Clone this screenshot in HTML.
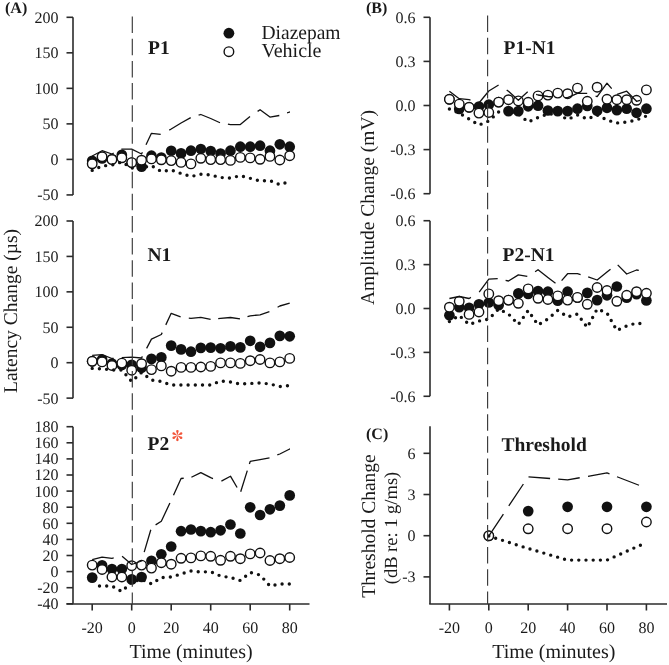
<!DOCTYPE html><html><head><meta charset="utf-8"><style>html,body{margin:0;padding:0;background:#fff;}svg{display:block;text-rendering:geometricPrecision;filter:blur(0.3px);}</style></head><body>
<svg width="669" height="665" viewBox="0 0 669 665" font-family='"Liberation Serif", serif' fill="#1a1a1a">
<line x1="73" y1="17.30000000000001" x2="73" y2="194.925" stroke="#2b2b2b" stroke-width="1.6"/>
<line x1="66.5" y1="17.30" x2="73" y2="17.30" stroke="#2b2b2b" stroke-width="1.6"/>
<text x="58.5" y="22.70" text-anchor="end" font-size="16">200</text>
<line x1="66.5" y1="52.83" x2="73" y2="52.83" stroke="#2b2b2b" stroke-width="1.6"/>
<text x="58.5" y="58.23" text-anchor="end" font-size="16">150</text>
<line x1="66.5" y1="88.35" x2="73" y2="88.35" stroke="#2b2b2b" stroke-width="1.6"/>
<text x="58.5" y="93.75" text-anchor="end" font-size="16">100</text>
<line x1="66.5" y1="123.88" x2="73" y2="123.88" stroke="#2b2b2b" stroke-width="1.6"/>
<text x="58.5" y="129.28" text-anchor="end" font-size="16">50</text>
<line x1="66.5" y1="159.40" x2="73" y2="159.40" stroke="#2b2b2b" stroke-width="1.6"/>
<text x="58.5" y="164.80" text-anchor="end" font-size="16">0</text>
<line x1="66.5" y1="194.93" x2="73" y2="194.93" stroke="#2b2b2b" stroke-width="1.6"/>
<text x="58.5" y="200.33" text-anchor="end" font-size="16">-50</text>
<line x1="73" y1="220.99999999999997" x2="73" y2="398.125" stroke="#2b2b2b" stroke-width="1.6"/>
<line x1="66.5" y1="221.00" x2="73" y2="221.00" stroke="#2b2b2b" stroke-width="1.6"/>
<text x="58.5" y="226.40" text-anchor="end" font-size="16">200</text>
<line x1="66.5" y1="256.42" x2="73" y2="256.42" stroke="#2b2b2b" stroke-width="1.6"/>
<text x="58.5" y="261.82" text-anchor="end" font-size="16">150</text>
<line x1="66.5" y1="291.85" x2="73" y2="291.85" stroke="#2b2b2b" stroke-width="1.6"/>
<text x="58.5" y="297.25" text-anchor="end" font-size="16">100</text>
<line x1="66.5" y1="327.27" x2="73" y2="327.27" stroke="#2b2b2b" stroke-width="1.6"/>
<text x="58.5" y="332.67" text-anchor="end" font-size="16">50</text>
<line x1="66.5" y1="362.70" x2="73" y2="362.70" stroke="#2b2b2b" stroke-width="1.6"/>
<text x="58.5" y="368.10" text-anchor="end" font-size="16">0</text>
<line x1="66.5" y1="398.12" x2="73" y2="398.12" stroke="#2b2b2b" stroke-width="1.6"/>
<text x="58.5" y="403.52" text-anchor="end" font-size="16">-50</text>
<line x1="73" y1="426.70000000000005" x2="73" y2="603.8000000000001" stroke="#2b2b2b" stroke-width="1.6"/>
<line x1="66.5" y1="426.70" x2="73" y2="426.70" stroke="#2b2b2b" stroke-width="1.6"/>
<text x="58.5" y="432.10" text-anchor="end" font-size="16">180</text>
<line x1="66.5" y1="442.80" x2="73" y2="442.80" stroke="#2b2b2b" stroke-width="1.6"/>
<text x="58.5" y="448.20" text-anchor="end" font-size="16">160</text>
<line x1="66.5" y1="458.90" x2="73" y2="458.90" stroke="#2b2b2b" stroke-width="1.6"/>
<text x="58.5" y="464.30" text-anchor="end" font-size="16">140</text>
<line x1="66.5" y1="475.00" x2="73" y2="475.00" stroke="#2b2b2b" stroke-width="1.6"/>
<text x="58.5" y="480.40" text-anchor="end" font-size="16">120</text>
<line x1="66.5" y1="491.10" x2="73" y2="491.10" stroke="#2b2b2b" stroke-width="1.6"/>
<text x="58.5" y="496.50" text-anchor="end" font-size="16">100</text>
<line x1="66.5" y1="507.20" x2="73" y2="507.20" stroke="#2b2b2b" stroke-width="1.6"/>
<text x="58.5" y="512.60" text-anchor="end" font-size="16">80</text>
<line x1="66.5" y1="523.30" x2="73" y2="523.30" stroke="#2b2b2b" stroke-width="1.6"/>
<text x="58.5" y="528.70" text-anchor="end" font-size="16">60</text>
<line x1="66.5" y1="539.40" x2="73" y2="539.40" stroke="#2b2b2b" stroke-width="1.6"/>
<text x="58.5" y="544.80" text-anchor="end" font-size="16">40</text>
<line x1="66.5" y1="555.50" x2="73" y2="555.50" stroke="#2b2b2b" stroke-width="1.6"/>
<text x="58.5" y="560.90" text-anchor="end" font-size="16">20</text>
<line x1="66.5" y1="571.60" x2="73" y2="571.60" stroke="#2b2b2b" stroke-width="1.6"/>
<text x="58.5" y="577.00" text-anchor="end" font-size="16">0</text>
<line x1="66.5" y1="587.70" x2="73" y2="587.70" stroke="#2b2b2b" stroke-width="1.6"/>
<text x="58.5" y="593.10" text-anchor="end" font-size="16">-20</text>
<line x1="66.5" y1="603.80" x2="73" y2="603.80" stroke="#2b2b2b" stroke-width="1.6"/>
<text x="58.5" y="609.20" text-anchor="end" font-size="16">-40</text>
<line x1="430" y1="17.299999999999997" x2="430" y2="193.7" stroke="#2b2b2b" stroke-width="1.6"/>
<line x1="423.5" y1="17.30" x2="430" y2="17.30" stroke="#2b2b2b" stroke-width="1.6"/>
<text x="415.5" y="22.70" text-anchor="end" font-size="16">0.6</text>
<line x1="423.5" y1="61.40" x2="430" y2="61.40" stroke="#2b2b2b" stroke-width="1.6"/>
<text x="415.5" y="66.80" text-anchor="end" font-size="16">0.3</text>
<line x1="423.5" y1="105.50" x2="430" y2="105.50" stroke="#2b2b2b" stroke-width="1.6"/>
<text x="415.5" y="110.90" text-anchor="end" font-size="16">0.0</text>
<line x1="423.5" y1="149.60" x2="430" y2="149.60" stroke="#2b2b2b" stroke-width="1.6"/>
<text x="415.5" y="155.00" text-anchor="end" font-size="16">-0.3</text>
<line x1="423.5" y1="193.70" x2="430" y2="193.70" stroke="#2b2b2b" stroke-width="1.6"/>
<text x="415.5" y="199.10" text-anchor="end" font-size="16">-0.6</text>
<line x1="430" y1="220.72" x2="430" y2="396.28" stroke="#2b2b2b" stroke-width="1.6"/>
<line x1="423.5" y1="220.72" x2="430" y2="220.72" stroke="#2b2b2b" stroke-width="1.6"/>
<text x="415.5" y="226.12" text-anchor="end" font-size="16">0.6</text>
<line x1="423.5" y1="264.61" x2="430" y2="264.61" stroke="#2b2b2b" stroke-width="1.6"/>
<text x="415.5" y="270.01" text-anchor="end" font-size="16">0.3</text>
<line x1="423.5" y1="308.50" x2="430" y2="308.50" stroke="#2b2b2b" stroke-width="1.6"/>
<text x="415.5" y="313.90" text-anchor="end" font-size="16">0.0</text>
<line x1="423.5" y1="352.39" x2="430" y2="352.39" stroke="#2b2b2b" stroke-width="1.6"/>
<text x="415.5" y="357.79" text-anchor="end" font-size="16">-0.3</text>
<line x1="423.5" y1="396.28" x2="430" y2="396.28" stroke="#2b2b2b" stroke-width="1.6"/>
<text x="415.5" y="401.68" text-anchor="end" font-size="16">-0.6</text>
<line x1="430" y1="426.2" x2="430" y2="604" stroke="#2b2b2b" stroke-width="1.6"/>
<line x1="423.5" y1="453.32" x2="430" y2="453.32" stroke="#2b2b2b" stroke-width="1.6"/>
<text x="415.5" y="458.72" text-anchor="end" font-size="16">6</text>
<line x1="423.5" y1="494.51" x2="430" y2="494.51" stroke="#2b2b2b" stroke-width="1.6"/>
<text x="415.5" y="499.91" text-anchor="end" font-size="16">3</text>
<line x1="423.5" y1="535.70" x2="430" y2="535.70" stroke="#2b2b2b" stroke-width="1.6"/>
<text x="415.5" y="541.10" text-anchor="end" font-size="16">0</text>
<line x1="423.5" y1="576.89" x2="430" y2="576.89" stroke="#2b2b2b" stroke-width="1.6"/>
<text x="415.5" y="582.29" text-anchor="end" font-size="16">-3</text>
<line x1="66.5" y1="604" x2="309.5" y2="604" stroke="#2b2b2b" stroke-width="1.6"/>
<line x1="92.20" y1="604" x2="92.20" y2="610.5" stroke="#2b2b2b" stroke-width="1.6"/>
<text x="92.20" y="632.80" text-anchor="middle" font-size="16">-20</text>
<line x1="131.70" y1="604" x2="131.70" y2="610.5" stroke="#2b2b2b" stroke-width="1.6"/>
<text x="131.70" y="632.80" text-anchor="middle" font-size="16">0</text>
<line x1="171.20" y1="604" x2="171.20" y2="610.5" stroke="#2b2b2b" stroke-width="1.6"/>
<text x="171.20" y="632.80" text-anchor="middle" font-size="16">20</text>
<line x1="210.70" y1="604" x2="210.70" y2="610.5" stroke="#2b2b2b" stroke-width="1.6"/>
<text x="210.70" y="632.80" text-anchor="middle" font-size="16">40</text>
<line x1="250.20" y1="604" x2="250.20" y2="610.5" stroke="#2b2b2b" stroke-width="1.6"/>
<text x="250.20" y="632.80" text-anchor="middle" font-size="16">60</text>
<line x1="289.70" y1="604" x2="289.70" y2="610.5" stroke="#2b2b2b" stroke-width="1.6"/>
<text x="289.70" y="632.80" text-anchor="middle" font-size="16">80</text>
<line x1="429.2" y1="604" x2="667" y2="604" stroke="#2b2b2b" stroke-width="1.6"/>
<line x1="449.40" y1="604" x2="449.40" y2="610.5" stroke="#2b2b2b" stroke-width="1.6"/>
<text x="449.40" y="632.80" text-anchor="middle" font-size="16">-20</text>
<line x1="488.80" y1="604" x2="488.80" y2="610.5" stroke="#2b2b2b" stroke-width="1.6"/>
<text x="488.80" y="632.80" text-anchor="middle" font-size="16">0</text>
<line x1="528.20" y1="604" x2="528.20" y2="610.5" stroke="#2b2b2b" stroke-width="1.6"/>
<text x="528.20" y="632.80" text-anchor="middle" font-size="16">20</text>
<line x1="567.60" y1="604" x2="567.60" y2="610.5" stroke="#2b2b2b" stroke-width="1.6"/>
<text x="567.60" y="632.80" text-anchor="middle" font-size="16">40</text>
<line x1="607.00" y1="604" x2="607.00" y2="610.5" stroke="#2b2b2b" stroke-width="1.6"/>
<text x="607.00" y="632.80" text-anchor="middle" font-size="16">60</text>
<line x1="646.40" y1="604" x2="646.40" y2="610.5" stroke="#2b2b2b" stroke-width="1.6"/>
<text x="646.40" y="632.80" text-anchor="middle" font-size="16">80</text>
<text x="5" y="13" font-size="16" font-weight="bold">(A)</text>
<text x="366" y="13" font-size="16" font-weight="bold">(B)</text>
<text x="366" y="439" font-size="16" font-weight="bold">(C)</text>
<text x="148" y="53.6" font-size="19.5" font-weight="bold">P1</text>
<text x="147.5" y="260.6" font-size="19.5" font-weight="bold">N1</text>
<text x="147.5" y="449.6" font-size="19.5" font-weight="bold">P2</text>
<g transform="translate(177.4,435.6)" fill="#f2553a"><path d="M0,0 L-1.0,-3.5 A1.28,1.28 0 1 1 1.0,-3.5 Z" transform="rotate(0)"/><path d="M0,0 L-1.0,-3.5 A1.28,1.28 0 1 1 1.0,-3.5 Z" transform="rotate(60)"/><path d="M0,0 L-1.0,-3.5 A1.28,1.28 0 1 1 1.0,-3.5 Z" transform="rotate(120)"/><path d="M0,0 L-1.0,-3.5 A1.28,1.28 0 1 1 1.0,-3.5 Z" transform="rotate(180)"/><path d="M0,0 L-1.0,-3.5 A1.28,1.28 0 1 1 1.0,-3.5 Z" transform="rotate(240)"/><path d="M0,0 L-1.0,-3.5 A1.28,1.28 0 1 1 1.0,-3.5 Z" transform="rotate(300)"/></g>
<text x="503.5" y="54.2" font-size="19.5" font-weight="bold">P1-N1</text>
<text x="502.5" y="261.2" font-size="19.5" font-weight="bold">P2-N1</text>
<text x="501.5" y="450.7" font-size="19.5" font-weight="bold">Threshold</text>
<circle cx="228.9" cy="33.2" r="5.4" fill="#111"/>
<circle cx="228.9" cy="51.7" r="4.8" fill="#fff" stroke="#111" stroke-width="1.4"/>
<text x="261.5" y="39.4" font-size="20" textLength="79" lengthAdjust="spacingAndGlyphs">Diazepam</text>
<text x="261.5" y="57.4" font-size="20">Vehicle</text>
<text x="191" y="658.2" text-anchor="middle" font-size="20">Time (minutes)</text>
<text x="553.8" y="658.2" text-anchor="middle" font-size="20">Time (minutes)</text>
<text transform="translate(17,311) rotate(-90)" text-anchor="middle" font-size="19.5">Latency Change (µs)</text>
<text transform="translate(374,207.5) rotate(-90)" text-anchor="middle" font-size="19.5">Amplitude Change (mV)</text>
<text transform="translate(374.5,526) rotate(-90)" text-anchor="middle" font-size="19.5">Threshold Change</text>
<text transform="translate(397,528) rotate(-90)" text-anchor="middle" font-size="18.5">(dB re: 1 g/ms)</text>
<circle cx="92.20" cy="160.80" r="5.35" fill="#111"/>
<circle cx="102.08" cy="158.50" r="5.35" fill="#111"/>
<circle cx="111.95" cy="159.00" r="5.35" fill="#111"/>
<circle cx="121.83" cy="154.90" r="5.35" fill="#111"/>
<circle cx="131.70" cy="162.50" r="5.35" fill="#111"/>
<circle cx="141.57" cy="166.60" r="5.35" fill="#111"/>
<circle cx="151.45" cy="155.70" r="5.35" fill="#111"/>
<circle cx="161.32" cy="157.60" r="5.35" fill="#111"/>
<circle cx="171.20" cy="150.80" r="5.35" fill="#111"/>
<circle cx="181.07" cy="153.40" r="5.35" fill="#111"/>
<circle cx="190.95" cy="150.70" r="5.35" fill="#111"/>
<circle cx="200.82" cy="149.00" r="5.35" fill="#111"/>
<circle cx="210.70" cy="151.10" r="5.35" fill="#111"/>
<circle cx="220.57" cy="153.60" r="5.35" fill="#111"/>
<circle cx="230.45" cy="150.70" r="5.35" fill="#111"/>
<circle cx="240.32" cy="146.70" r="5.35" fill="#111"/>
<circle cx="250.20" cy="146.70" r="5.35" fill="#111"/>
<circle cx="260.07" cy="145.70" r="5.35" fill="#111"/>
<circle cx="269.95" cy="150.70" r="5.35" fill="#111"/>
<circle cx="279.82" cy="144.30" r="5.35" fill="#111"/>
<circle cx="289.70" cy="146.70" r="5.35" fill="#111"/>
<circle cx="92.20" cy="163.80" r="4.75" fill="#fff" stroke="#111" stroke-width="1.4"/>
<circle cx="102.08" cy="156.70" r="4.75" fill="#fff" stroke="#111" stroke-width="1.4"/>
<circle cx="111.95" cy="159.60" r="4.75" fill="#fff" stroke="#111" stroke-width="1.4"/>
<circle cx="121.83" cy="157.80" r="4.75" fill="#fff" stroke="#111" stroke-width="1.4"/>
<circle cx="131.70" cy="162.60" r="4.75" fill="#fff" stroke="#111" stroke-width="1.4"/>
<circle cx="141.57" cy="160.20" r="4.75" fill="#fff" stroke="#111" stroke-width="1.4"/>
<circle cx="151.45" cy="158.90" r="4.75" fill="#fff" stroke="#111" stroke-width="1.4"/>
<circle cx="161.32" cy="159.80" r="4.75" fill="#fff" stroke="#111" stroke-width="1.4"/>
<circle cx="171.20" cy="160.60" r="4.75" fill="#fff" stroke="#111" stroke-width="1.4"/>
<circle cx="181.07" cy="162.40" r="4.75" fill="#fff" stroke="#111" stroke-width="1.4"/>
<circle cx="190.95" cy="163.90" r="4.75" fill="#fff" stroke="#111" stroke-width="1.4"/>
<circle cx="200.82" cy="158.30" r="4.75" fill="#fff" stroke="#111" stroke-width="1.4"/>
<circle cx="210.70" cy="159.60" r="4.75" fill="#fff" stroke="#111" stroke-width="1.4"/>
<circle cx="220.57" cy="159.60" r="4.75" fill="#fff" stroke="#111" stroke-width="1.4"/>
<circle cx="230.45" cy="160.40" r="4.75" fill="#fff" stroke="#111" stroke-width="1.4"/>
<circle cx="240.32" cy="157.40" r="4.75" fill="#fff" stroke="#111" stroke-width="1.4"/>
<circle cx="250.20" cy="157.90" r="4.75" fill="#fff" stroke="#111" stroke-width="1.4"/>
<circle cx="260.07" cy="159.30" r="4.75" fill="#fff" stroke="#111" stroke-width="1.4"/>
<circle cx="269.95" cy="156.40" r="4.75" fill="#fff" stroke="#111" stroke-width="1.4"/>
<circle cx="279.82" cy="160.00" r="4.75" fill="#fff" stroke="#111" stroke-width="1.4"/>
<circle cx="289.70" cy="155.70" r="4.75" fill="#fff" stroke="#111" stroke-width="1.4"/>
<path d="M92.20,156.00 L102.08,150.70 L111.95,154.00 L113.70,153.15 M121.50,149.36 L121.83,149.20 L131.70,149.20 L141.57,154.00 L142.40,152.27 M146.00,144.72 L151.45,133.30 L160.70,134.42 M169.30,130.06 L171.20,129.00 L181.07,123.00 L190.70,117.64 M198.60,115.18 L200.82,114.50 L210.70,118.50 L220.00,122.74 M227.90,124.19 L230.45,124.60 L240.32,124.60 L250.00,116.57 M257.60,111.38 L260.07,109.70 L269.95,117.10 L279.30,115.49 M287.10,112.90 L289.70,112.00 L290.00,112.00" fill="none" stroke="#111" stroke-width="1.3" stroke-linejoin="round"/>
<polyline points="92.20,170.40 102.08,166.00 111.95,165.00 121.83,162.00 131.70,168.00 141.57,168.00 151.45,165.60 161.32,171.50 171.20,170.00 181.07,173.50 190.95,176.50 200.82,174.30 210.70,175.00 220.57,177.50 230.45,178.00 240.32,175.70 250.20,178.30 260.07,181.00 269.95,180.60 279.82,184.70 289.70,181.40" fill="none" stroke="#111" stroke-width="3.4" stroke-dasharray="0 7.2" stroke-linecap="round"/>
<circle cx="92.20" cy="361.30" r="5.35" fill="#111"/>
<circle cx="102.08" cy="359.50" r="5.35" fill="#111"/>
<circle cx="111.95" cy="363.50" r="5.35" fill="#111"/>
<circle cx="121.83" cy="365.00" r="5.35" fill="#111"/>
<circle cx="131.70" cy="364.90" r="5.35" fill="#111"/>
<circle cx="141.57" cy="367.80" r="5.35" fill="#111"/>
<circle cx="151.45" cy="358.90" r="5.35" fill="#111"/>
<circle cx="161.32" cy="357.40" r="5.35" fill="#111"/>
<circle cx="171.20" cy="345.60" r="5.35" fill="#111"/>
<circle cx="181.07" cy="349.40" r="5.35" fill="#111"/>
<circle cx="190.95" cy="351.70" r="5.35" fill="#111"/>
<circle cx="200.82" cy="347.90" r="5.35" fill="#111"/>
<circle cx="210.70" cy="347.60" r="5.35" fill="#111"/>
<circle cx="220.57" cy="348.30" r="5.35" fill="#111"/>
<circle cx="230.45" cy="346.40" r="5.35" fill="#111"/>
<circle cx="240.32" cy="347.40" r="5.35" fill="#111"/>
<circle cx="250.20" cy="340.80" r="5.35" fill="#111"/>
<circle cx="260.07" cy="346.80" r="5.35" fill="#111"/>
<circle cx="269.95" cy="342.90" r="5.35" fill="#111"/>
<circle cx="279.82" cy="335.90" r="5.35" fill="#111"/>
<circle cx="289.70" cy="336.30" r="5.35" fill="#111"/>
<circle cx="92.20" cy="361.30" r="4.75" fill="#fff" stroke="#111" stroke-width="1.4"/>
<circle cx="102.08" cy="361.90" r="4.75" fill="#fff" stroke="#111" stroke-width="1.4"/>
<circle cx="111.95" cy="365.50" r="4.75" fill="#fff" stroke="#111" stroke-width="1.4"/>
<circle cx="121.83" cy="363.10" r="4.75" fill="#fff" stroke="#111" stroke-width="1.4"/>
<circle cx="131.70" cy="370.20" r="4.75" fill="#fff" stroke="#111" stroke-width="1.4"/>
<circle cx="141.57" cy="363.70" r="4.75" fill="#fff" stroke="#111" stroke-width="1.4"/>
<circle cx="151.45" cy="369.60" r="4.75" fill="#fff" stroke="#111" stroke-width="1.4"/>
<circle cx="161.32" cy="365.90" r="4.75" fill="#fff" stroke="#111" stroke-width="1.4"/>
<circle cx="171.20" cy="371.20" r="4.75" fill="#fff" stroke="#111" stroke-width="1.4"/>
<circle cx="181.07" cy="367.40" r="4.75" fill="#fff" stroke="#111" stroke-width="1.4"/>
<circle cx="190.95" cy="367.40" r="4.75" fill="#fff" stroke="#111" stroke-width="1.4"/>
<circle cx="200.82" cy="367.00" r="4.75" fill="#fff" stroke="#111" stroke-width="1.4"/>
<circle cx="210.70" cy="366.40" r="4.75" fill="#fff" stroke="#111" stroke-width="1.4"/>
<circle cx="220.57" cy="362.90" r="4.75" fill="#fff" stroke="#111" stroke-width="1.4"/>
<circle cx="230.45" cy="362.90" r="4.75" fill="#fff" stroke="#111" stroke-width="1.4"/>
<circle cx="240.32" cy="363.40" r="4.75" fill="#fff" stroke="#111" stroke-width="1.4"/>
<circle cx="250.20" cy="360.70" r="4.75" fill="#fff" stroke="#111" stroke-width="1.4"/>
<circle cx="260.07" cy="359.50" r="4.75" fill="#fff" stroke="#111" stroke-width="1.4"/>
<circle cx="269.95" cy="362.90" r="4.75" fill="#fff" stroke="#111" stroke-width="1.4"/>
<circle cx="279.82" cy="361.90" r="4.75" fill="#fff" stroke="#111" stroke-width="1.4"/>
<circle cx="289.70" cy="358.40" r="4.75" fill="#fff" stroke="#111" stroke-width="1.4"/>
<path d="M92.20,355.30 L102.08,354.70 L111.95,358.50 L113.70,358.36 M121.80,357.70 L121.83,357.70 L131.70,357.10 L141.57,358.00 L142.40,356.42 M146.60,348.38 L151.45,339.10 L161.32,334.50 L162.20,332.62 M165.80,324.89 L171.20,313.30 L180.60,316.92 M188.80,318.04 L190.95,318.30 L200.82,317.40 L210.60,319.28 M218.20,318.54 L220.57,318.30 L230.45,317.50 L240.00,318.85 M247.50,316.65 L250.20,315.80 L260.07,314.80 L269.40,311.68 M277.60,307.24 L279.82,306.00 L289.70,303.20" fill="none" stroke="#111" stroke-width="1.3" stroke-linejoin="round"/>
<polyline points="92.20,368.40 102.08,368.80 111.95,370.00 121.83,370.00 131.70,381.50 141.57,372.50 151.45,380.00 161.32,381.50 171.20,385.00 181.07,385.00 190.95,385.00 200.82,385.00 210.70,385.00 220.57,381.00 230.45,382.00 240.32,384.00 250.20,383.50 260.07,383.00 269.95,384.00 279.82,386.50 289.70,385.50" fill="none" stroke="#111" stroke-width="3.4" stroke-dasharray="0 7.2" stroke-linecap="round"/>
<circle cx="92.20" cy="577.60" r="5.35" fill="#111"/>
<circle cx="102.08" cy="565.40" r="5.35" fill="#111"/>
<circle cx="111.95" cy="569.00" r="5.35" fill="#111"/>
<circle cx="121.83" cy="569.00" r="5.35" fill="#111"/>
<circle cx="131.70" cy="579.40" r="5.35" fill="#111"/>
<circle cx="141.57" cy="577.00" r="5.35" fill="#111"/>
<circle cx="151.45" cy="560.90" r="5.35" fill="#111"/>
<circle cx="161.32" cy="554.30" r="5.35" fill="#111"/>
<circle cx="171.20" cy="546.50" r="5.35" fill="#111"/>
<circle cx="181.07" cy="531.20" r="5.35" fill="#111"/>
<circle cx="190.95" cy="529.50" r="5.35" fill="#111"/>
<circle cx="200.82" cy="531.10" r="5.35" fill="#111"/>
<circle cx="210.70" cy="532.20" r="5.35" fill="#111"/>
<circle cx="220.57" cy="530.30" r="5.35" fill="#111"/>
<circle cx="230.45" cy="524.50" r="5.35" fill="#111"/>
<circle cx="240.32" cy="533.50" r="5.35" fill="#111"/>
<circle cx="250.20" cy="507.30" r="5.35" fill="#111"/>
<circle cx="260.07" cy="515.00" r="5.35" fill="#111"/>
<circle cx="269.95" cy="509.30" r="5.35" fill="#111"/>
<circle cx="279.82" cy="505.60" r="5.35" fill="#111"/>
<circle cx="289.70" cy="495.40" r="5.35" fill="#111"/>
<circle cx="92.20" cy="565.10" r="4.75" fill="#fff" stroke="#111" stroke-width="1.4"/>
<circle cx="102.08" cy="569.50" r="4.75" fill="#fff" stroke="#111" stroke-width="1.4"/>
<circle cx="111.95" cy="577.00" r="4.75" fill="#fff" stroke="#111" stroke-width="1.4"/>
<circle cx="121.83" cy="577.00" r="4.75" fill="#fff" stroke="#111" stroke-width="1.4"/>
<circle cx="131.70" cy="565.70" r="4.75" fill="#fff" stroke="#111" stroke-width="1.4"/>
<circle cx="141.57" cy="565.10" r="4.75" fill="#fff" stroke="#111" stroke-width="1.4"/>
<circle cx="151.45" cy="568.10" r="4.75" fill="#fff" stroke="#111" stroke-width="1.4"/>
<circle cx="161.32" cy="562.70" r="4.75" fill="#fff" stroke="#111" stroke-width="1.4"/>
<circle cx="171.20" cy="564.20" r="4.75" fill="#fff" stroke="#111" stroke-width="1.4"/>
<circle cx="181.07" cy="558.30" r="4.75" fill="#fff" stroke="#111" stroke-width="1.4"/>
<circle cx="190.95" cy="557.90" r="4.75" fill="#fff" stroke="#111" stroke-width="1.4"/>
<circle cx="200.82" cy="555.90" r="4.75" fill="#fff" stroke="#111" stroke-width="1.4"/>
<circle cx="210.70" cy="556.30" r="4.75" fill="#fff" stroke="#111" stroke-width="1.4"/>
<circle cx="220.57" cy="560.30" r="4.75" fill="#fff" stroke="#111" stroke-width="1.4"/>
<circle cx="230.45" cy="556.30" r="4.75" fill="#fff" stroke="#111" stroke-width="1.4"/>
<circle cx="240.32" cy="558.70" r="4.75" fill="#fff" stroke="#111" stroke-width="1.4"/>
<circle cx="250.20" cy="553.90" r="4.75" fill="#fff" stroke="#111" stroke-width="1.4"/>
<circle cx="260.07" cy="553.00" r="4.75" fill="#fff" stroke="#111" stroke-width="1.4"/>
<circle cx="269.95" cy="560.50" r="4.75" fill="#fff" stroke="#111" stroke-width="1.4"/>
<circle cx="279.82" cy="558.70" r="4.75" fill="#fff" stroke="#111" stroke-width="1.4"/>
<circle cx="289.70" cy="557.50" r="4.75" fill="#fff" stroke="#111" stroke-width="1.4"/>
<path d="M92.20,559.70 L102.08,557.10 L111.95,558.30 L113.70,557.91 M122.10,556.33 L131.70,564.50 L141.57,561.00 L141.80,560.24 M144.20,552.09 L150.80,529.71 M155.60,524.85 L161.32,521.20 L169.90,503.05 M173.50,495.22 L181.07,478.50 L183.70,478.23 M191.40,477.28 L200.82,472.60 L210.70,477.70 L213.00,478.59 M221.40,481.06 L230.45,476.20 L237.10,487.51 M240.70,491.80 L247.30,470.68 M249.40,463.96 L250.20,461.40 L260.07,459.60 L269.50,457.88 M277.30,454.97 L279.82,454.00 L289.70,449.00 L290.00,449.00" fill="none" stroke="#111" stroke-width="1.3" stroke-linejoin="round"/>
<polyline points="99.50,586.00 102.08,586.00 111.95,586.00 121.83,591.50 131.70,582.00 141.57,579.50 151.45,583.90 161.32,577.60 171.20,577.00 181.07,574.00 190.95,571.00 200.82,572.00 210.70,571.70 220.57,576.00 230.45,577.50 240.32,580.50 250.20,572.50 260.07,575.00 269.95,586.00 279.82,584.00 289.70,584.00" fill="none" stroke="#111" stroke-width="3.4" stroke-dasharray="0 7.2" stroke-linecap="round"/>
<circle cx="449.40" cy="99.30" r="5.35" fill="#111"/>
<circle cx="459.25" cy="108.90" r="5.35" fill="#111"/>
<circle cx="469.10" cy="107.30" r="5.35" fill="#111"/>
<circle cx="478.95" cy="106.50" r="5.35" fill="#111"/>
<circle cx="488.80" cy="104.70" r="5.35" fill="#111"/>
<circle cx="498.65" cy="102.10" r="5.35" fill="#111"/>
<circle cx="508.50" cy="111.10" r="5.35" fill="#111"/>
<circle cx="518.35" cy="111.10" r="5.35" fill="#111"/>
<circle cx="528.20" cy="106.30" r="5.35" fill="#111"/>
<circle cx="538.05" cy="105.70" r="5.35" fill="#111"/>
<circle cx="547.90" cy="110.50" r="5.35" fill="#111"/>
<circle cx="557.75" cy="111.10" r="5.35" fill="#111"/>
<circle cx="567.60" cy="111.10" r="5.35" fill="#111"/>
<circle cx="577.45" cy="108.70" r="5.35" fill="#111"/>
<circle cx="587.30" cy="106.00" r="5.35" fill="#111"/>
<circle cx="597.15" cy="110.80" r="5.35" fill="#111"/>
<circle cx="607.00" cy="107.80" r="5.35" fill="#111"/>
<circle cx="616.85" cy="110.10" r="5.35" fill="#111"/>
<circle cx="626.70" cy="108.70" r="5.35" fill="#111"/>
<circle cx="636.55" cy="112.80" r="5.35" fill="#111"/>
<circle cx="646.40" cy="108.70" r="5.35" fill="#111"/>
<circle cx="449.40" cy="99.30" r="4.75" fill="#fff" stroke="#111" stroke-width="1.4"/>
<circle cx="459.25" cy="104.10" r="4.75" fill="#fff" stroke="#111" stroke-width="1.4"/>
<circle cx="469.10" cy="107.30" r="4.75" fill="#fff" stroke="#111" stroke-width="1.4"/>
<circle cx="478.95" cy="113.10" r="4.75" fill="#fff" stroke="#111" stroke-width="1.4"/>
<circle cx="488.80" cy="112.50" r="4.75" fill="#fff" stroke="#111" stroke-width="1.4"/>
<circle cx="498.65" cy="102.10" r="4.75" fill="#fff" stroke="#111" stroke-width="1.4"/>
<circle cx="508.50" cy="99.70" r="4.75" fill="#fff" stroke="#111" stroke-width="1.4"/>
<circle cx="518.35" cy="100.90" r="4.75" fill="#fff" stroke="#111" stroke-width="1.4"/>
<circle cx="528.20" cy="102.30" r="4.75" fill="#fff" stroke="#111" stroke-width="1.4"/>
<circle cx="538.05" cy="95.90" r="4.75" fill="#fff" stroke="#111" stroke-width="1.4"/>
<circle cx="547.90" cy="95.10" r="4.75" fill="#fff" stroke="#111" stroke-width="1.4"/>
<circle cx="557.75" cy="93.10" r="4.75" fill="#fff" stroke="#111" stroke-width="1.4"/>
<circle cx="567.60" cy="93.70" r="4.75" fill="#fff" stroke="#111" stroke-width="1.4"/>
<circle cx="577.45" cy="88.10" r="4.75" fill="#fff" stroke="#111" stroke-width="1.4"/>
<circle cx="587.30" cy="101.30" r="4.75" fill="#fff" stroke="#111" stroke-width="1.4"/>
<circle cx="597.15" cy="87.20" r="4.75" fill="#fff" stroke="#111" stroke-width="1.4"/>
<circle cx="607.00" cy="99.30" r="4.75" fill="#fff" stroke="#111" stroke-width="1.4"/>
<circle cx="616.85" cy="99.70" r="4.75" fill="#fff" stroke="#111" stroke-width="1.4"/>
<circle cx="626.70" cy="99.70" r="4.75" fill="#fff" stroke="#111" stroke-width="1.4"/>
<circle cx="636.55" cy="100.30" r="4.75" fill="#fff" stroke="#111" stroke-width="1.4"/>
<circle cx="646.40" cy="89.90" r="4.75" fill="#fff" stroke="#111" stroke-width="1.4"/>
<path d="M449.40,91.30 L459.25,98.70 L469.10,99.70 L470.50,100.17 M478.90,102.98 L478.95,103.00 L488.80,91.00 L498.60,85.03 M506.70,90.15 L508.50,91.30 L518.35,100.30 L527.70,91.76 M536.10,94.27 L538.05,95.00 L547.90,96.50 L552.60,96.98 M564.80,97.57 L567.60,97.60 L577.45,93.30 L587.20,93.30 M595.60,96.08 L597.15,96.60 L607.00,83.20 L611.70,88.59 M617.10,94.42 L626.70,91.20 L636.55,101.30 L640.00,100.49" fill="none" stroke="#111" stroke-width="1.3" stroke-linejoin="round"/>
<polyline points="449.40,109.00 459.25,113.00 469.10,119.00 478.95,125.00 488.80,121.00 498.65,112.00 508.50,111.00 518.35,114.00 528.20,122.00 538.05,117.50 547.90,114.00 557.75,114.00 567.60,119.50 577.45,115.00 587.30,119.00 597.15,115.00 607.00,120.00 616.85,123.00 626.70,122.00 636.55,120.00 646.40,116.00" fill="none" stroke="#111" stroke-width="3.4" stroke-dasharray="0 7.2" stroke-linecap="round"/>
<circle cx="449.40" cy="315.30" r="5.35" fill="#111"/>
<circle cx="459.25" cy="307.20" r="5.35" fill="#111"/>
<circle cx="469.10" cy="307.80" r="5.35" fill="#111"/>
<circle cx="478.95" cy="304.30" r="5.35" fill="#111"/>
<circle cx="488.80" cy="302.50" r="5.35" fill="#111"/>
<circle cx="498.65" cy="305.20" r="5.35" fill="#111"/>
<circle cx="508.50" cy="300.10" r="5.35" fill="#111"/>
<circle cx="518.35" cy="293.40" r="5.35" fill="#111"/>
<circle cx="528.20" cy="294.00" r="5.35" fill="#111"/>
<circle cx="538.05" cy="291.10" r="5.35" fill="#111"/>
<circle cx="547.90" cy="291.70" r="5.35" fill="#111"/>
<circle cx="557.75" cy="300.70" r="5.35" fill="#111"/>
<circle cx="567.60" cy="291.70" r="5.35" fill="#111"/>
<circle cx="577.45" cy="297.70" r="5.35" fill="#111"/>
<circle cx="587.30" cy="292.90" r="5.35" fill="#111"/>
<circle cx="597.15" cy="300.10" r="5.35" fill="#111"/>
<circle cx="607.00" cy="295.30" r="5.35" fill="#111"/>
<circle cx="616.85" cy="286.50" r="5.35" fill="#111"/>
<circle cx="626.70" cy="297.70" r="5.35" fill="#111"/>
<circle cx="636.55" cy="294.10" r="5.35" fill="#111"/>
<circle cx="646.40" cy="300.50" r="5.35" fill="#111"/>
<circle cx="449.40" cy="307.20" r="4.75" fill="#fff" stroke="#111" stroke-width="1.4"/>
<circle cx="459.25" cy="301.30" r="4.75" fill="#fff" stroke="#111" stroke-width="1.4"/>
<circle cx="469.10" cy="314.40" r="4.75" fill="#fff" stroke="#111" stroke-width="1.4"/>
<circle cx="478.95" cy="312.00" r="4.75" fill="#fff" stroke="#111" stroke-width="1.4"/>
<circle cx="488.80" cy="293.90" r="4.75" fill="#fff" stroke="#111" stroke-width="1.4"/>
<circle cx="498.65" cy="300.70" r="4.75" fill="#fff" stroke="#111" stroke-width="1.4"/>
<circle cx="508.50" cy="300.10" r="4.75" fill="#fff" stroke="#111" stroke-width="1.4"/>
<circle cx="518.35" cy="303.30" r="4.75" fill="#fff" stroke="#111" stroke-width="1.4"/>
<circle cx="528.20" cy="288.90" r="4.75" fill="#fff" stroke="#111" stroke-width="1.4"/>
<circle cx="538.05" cy="298.30" r="4.75" fill="#fff" stroke="#111" stroke-width="1.4"/>
<circle cx="547.90" cy="299.50" r="4.75" fill="#fff" stroke="#111" stroke-width="1.4"/>
<circle cx="557.75" cy="295.90" r="4.75" fill="#fff" stroke="#111" stroke-width="1.4"/>
<circle cx="567.60" cy="300.10" r="4.75" fill="#fff" stroke="#111" stroke-width="1.4"/>
<circle cx="577.45" cy="297.40" r="4.75" fill="#fff" stroke="#111" stroke-width="1.4"/>
<circle cx="587.30" cy="304.30" r="4.75" fill="#fff" stroke="#111" stroke-width="1.4"/>
<circle cx="597.15" cy="287.50" r="4.75" fill="#fff" stroke="#111" stroke-width="1.4"/>
<circle cx="607.00" cy="290.50" r="4.75" fill="#fff" stroke="#111" stroke-width="1.4"/>
<circle cx="616.85" cy="301.30" r="4.75" fill="#fff" stroke="#111" stroke-width="1.4"/>
<circle cx="626.70" cy="295.30" r="4.75" fill="#fff" stroke="#111" stroke-width="1.4"/>
<circle cx="636.55" cy="291.70" r="4.75" fill="#fff" stroke="#111" stroke-width="1.4"/>
<circle cx="646.40" cy="293.30" r="4.75" fill="#fff" stroke="#111" stroke-width="1.4"/>
<path d="M449.40,298.50 L459.25,296.50 L469.10,298.50 L470.90,297.40 M479.20,292.16 L488.80,279.10 L497.70,278.56 M505.60,280.26 L508.50,281.00 L518.35,274.90 L527.30,276.35 M535.10,271.74 L538.05,269.70 L547.90,277.50 L555.50,283.29 M561.60,280.58 L567.60,273.70 L577.45,273.70 L580.60,274.60 M588.20,276.82 L597.15,280.00 L607.00,272.00 L610.50,269.16 M617.70,264.86 L626.70,274.00 L636.55,270.00 L638.80,270.46" fill="none" stroke="#111" stroke-width="1.3" stroke-linejoin="round"/>
<polyline points="449.40,321.60 459.25,315.50 469.10,324.50 478.95,321.00 488.80,319.00 498.65,309.00 508.50,314.00 518.35,324.50 528.20,310.50 538.05,325.00 547.90,319.00 557.75,310.40 567.60,317.00 577.45,314.00 587.30,327.50 597.15,309.00 607.00,313.00 616.85,330.50 626.70,326.00 636.55,323.00 646.40,324.60" fill="none" stroke="#111" stroke-width="3.4" stroke-dasharray="0 7.2" stroke-linecap="round"/>
<circle cx="488.80" cy="535.80" r="5.35" fill="#111"/>
<circle cx="528.20" cy="511.10" r="5.35" fill="#111"/>
<circle cx="567.60" cy="506.80" r="5.35" fill="#111"/>
<circle cx="607.00" cy="506.80" r="5.35" fill="#111"/>
<circle cx="646.40" cy="506.80" r="5.35" fill="#111"/>
<circle cx="488.80" cy="535.80" r="4.75" fill="#fff" stroke="#111" stroke-width="1.4"/>
<circle cx="528.20" cy="528.80" r="4.75" fill="#fff" stroke="#111" stroke-width="1.4"/>
<circle cx="567.60" cy="528.70" r="4.75" fill="#fff" stroke="#111" stroke-width="1.4"/>
<circle cx="607.00" cy="528.70" r="4.75" fill="#fff" stroke="#111" stroke-width="1.4"/>
<circle cx="646.40" cy="522.00" r="4.75" fill="#fff" stroke="#111" stroke-width="1.4"/>
<path d="M488.90,535.85 L503.40,514.06 M508.80,505.95 L523.40,484.01 M528.50,476.82 L550.10,478.52 M558.20,479.16 L567.60,479.90 L579.70,477.75 M588.00,476.28 L607.00,472.90 L609.50,473.86 M617.00,476.76 L639.00,485.25" fill="none" stroke="#111" stroke-width="1.3" stroke-linejoin="round"/>
<polyline points="488.80,536.00 528.20,548.50 567.60,560.10 607.00,560.10 646.40,542.50" fill="none" stroke="#111" stroke-width="3.4" stroke-dasharray="0 7.2" stroke-linecap="round"/>
<line x1="132.3" y1="16.6" x2="132.3" y2="604" stroke="#3a3a3a" stroke-width="1.15" stroke-dasharray="16.5 5.65"/>
<line x1="487.6" y1="15.5" x2="487.6" y2="604" stroke="#3a3a3a" stroke-width="1.15" stroke-dasharray="16.5 5.65"/>
</svg></body></html>
